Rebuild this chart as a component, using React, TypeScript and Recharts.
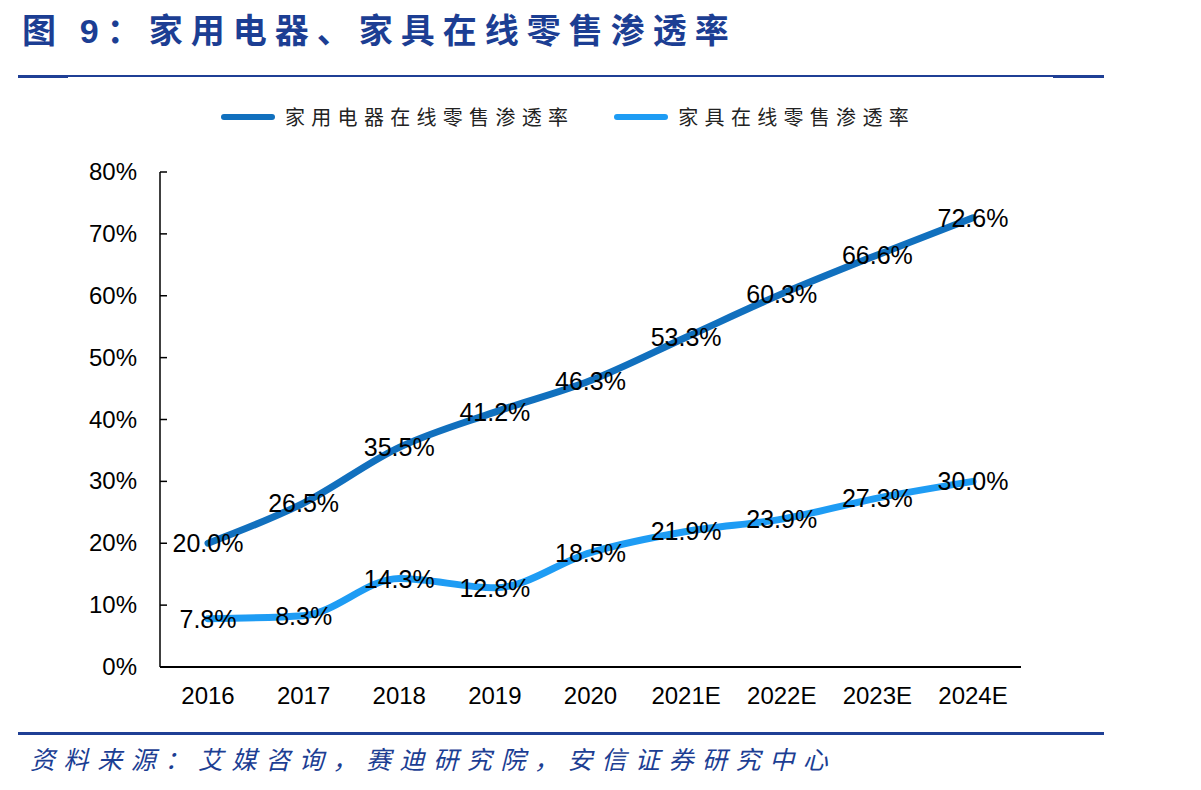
import React from 'react'
import { LineChart, Line, XAxis, YAxis, LabelList } from 'recharts'

const years = ['2016', '2017', '2018', '2019', '2020', '2021E', '2022E', '2023E', '2024E']
const applianceRate = [20.0, 26.5, 35.5, 41.2, 46.3, 53.3, 60.3, 66.6, 72.6]
const furnitureRate = [7.8, 8.3, 14.3, 12.8, 18.5, 21.9, 23.9, 27.3, 30.0]
const yTicks = [0, 10, 20, 30, 40, 50, 60, 70, 80]

const SERIES = [
  { key: 'appliance', name: '家用电器在线零售渗透率', color: '#1170BE' },
  { key: 'furniture', name: '家具在线零售渗透率', color: '#1E9CF4' },
]

const RULE = '#1F3F95'
const NUM_FONT = '"Liberation Sans", Arial, sans-serif'
const CJK_FONT = '"Noto Sans CJK SC", sans-serif'

const data = years.map((year, i) => ({
  year,
  appliance: applianceRate[i],
  furniture: furnitureRate[i],
}))

// y ticks: label on the left, short tick mark pointing into the plot
const YTick = (props: any) => {
  const { x, y, payload } = props
  return (
    <g>
      <text x={x} y={y} dy={8} textAnchor="end" fontSize={24} fontFamily={NUM_FONT} fill="#000">
        {payload.value}%
      </text>
      <line x1={x + 23} x2={x + 30} y1={y} y2={y} stroke="#000" strokeWidth={1.5} />
    </g>
  )
}

const PointLabel = (props: any) => {
  const { x, y, value } = props
  return (
    <text x={x} y={y} dy={9} textAnchor="middle" fontSize={25} fontFamily={NUM_FONT} fill="#000">
      {Number(value).toFixed(1)}%
    </text>
  )
}

export default function App() {
  return (
    <div style={{ position: 'absolute', left: 0, top: 0, width: 1201, height: 790, background: '#fff', overflow: 'hidden' }}>
      {/* title */}
      <div
        style={{
          position: 'absolute', left: 22, top: 4, fontFamily: CJK_FONT, fontWeight: 700,
          fontSize: 34, letterSpacing: 8, color: '#1C3E93', whiteSpace: 'nowrap',
        }}
      >
        图 <span style={{ fontFamily: NUM_FONT }}>9</span>：家用电器、家具在线零售渗透率
      </div>
      <div style={{ position: 'absolute', left: 18, top: 75, width: 1086, height: 2, background: RULE }} />
      <div style={{ position: 'absolute', left: 18, top: 76, width: 50, height: 2, background: RULE }} />
      <div style={{ position: 'absolute', left: 1053, top: 76, width: 51, height: 2, background: RULE }} />

      {/* legend */}
      <div style={{ position: 'absolute', left: 221, top: 102, display: 'flex', alignItems: 'center', fontFamily: CJK_FONT }}>
        {SERIES.map((s, i) => (
          <div key={s.key} style={{ display: 'flex', alignItems: 'center', marginRight: i === 0 ? 40 : 0 }}>
            <div style={{ width: 54, height: 6, borderRadius: 3, background: s.color, marginRight: 10 }} />
            <span style={{ fontSize: 20, letterSpacing: 6.3, color: '#222' }}>{s.name}</span>
          </div>
        ))}
      </div>

      <div style={{ position: 'absolute', left: 0, top: 0 }}>
        <LineChart width={1201} height={790} data={data} margin={{ top: 172, right: 180, bottom: 83, left: 0 }}>
          <XAxis
            dataKey="year"
            axisLine={{ stroke: '#000', strokeWidth: 2 }}
            tickLine={false}
            tickSize={0}
            tickMargin={20}
            height={40}
            interval={0}
            padding={{ left: 48, right: 48 }}
            tick={{ fontSize: 24, fontFamily: NUM_FONT, fill: '#000' }}
          />
          <YAxis
            width={160}
            domain={[0, 80]}
            ticks={yTicks}
            interval={0}
            axisLine={{ stroke: '#000', strokeWidth: 1.5 }}
            tickLine={false}
            tickSize={0}
            tickMargin={23}
            tick={<YTick />}
          />
          {SERIES.map(s => (
            <Line
              key={s.key}
              type="monotone"
              dataKey={s.key}
              name={s.name}
              stroke={s.color}
              strokeWidth={7}
              strokeLinecap="round"
              dot={false}
              activeDot={false}
              isAnimationActive={false}
            >
              <LabelList dataKey={s.key} content={<PointLabel />} />
            </Line>
          ))}
        </LineChart>
      </div>

      <div style={{ position: 'absolute', left: 18, top: 732, width: 1086, height: 3, background: RULE }} />
      {/* source */}
      <div
        style={{
          position: 'absolute', left: 30, top: 740, fontFamily: CJK_FONT, fontStyle: 'italic',
          fontSize: 25, letterSpacing: 8.6, color: '#1C3E93', whiteSpace: 'nowrap',
        }}
      >
        资料来源：艾媒咨询，赛迪研究院，安信证券研究中心
      </div>
    </div>
  )
}
